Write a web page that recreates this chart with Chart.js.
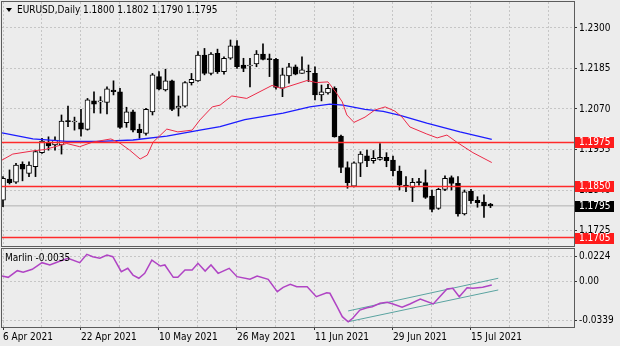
<!DOCTYPE html>
<html><head><meta charset="utf-8">
<script src="https://cdn.jsdelivr.net/npm/chart.js@4/dist/chart.umd.min.js"></script>
<style>
html,body{margin:0;padding:0;background:#ececec;}
#wrap{position:relative;width:620px;height:346px;overflow:hidden;background:#ececec;}
#c1{position:absolute;left:0;top:0;}
#c2{position:absolute;left:0;top:247px;}
</style></head><body>
<div id="wrap"><canvas id="c1" width="620" height="248"></canvas><canvas id="c2" width="620" height="99"></canvas></div>
<script>
// ---------- DATA ----------
const symbolName = 'EURUSD,Daily';
const dateLabels = ['6 Apr 2021','22 Apr 2021','10 May 2021','26 May 2021','11 Jun 2021','29 Jun 2021','15 Jul 2021'];
const dateLabelBars = [0,12,24,36,48,60,72];
const gridBars = [0,6,12,18,24,30,36,42,48,54,60,66,72,78,84];

const opens = [1.1811,1.1871,1.1862,1.1913,1.1887,1.1906,1.1946,1.1974,1.1968,1.1968,
1.2037,1.2033,1.2031,1.2012,1.2093,1.2090,1.2089,1.2124,1.2119,1.2031,
1.2062,1.2012,1.2001,1.2062,1.2162,1.2124,1.2150,1.2072,1.2078,1.2145,
1.2150,1.2223,1.2171,1.2228,1.2176,1.2214,1.2249,1.2195,1.2192,1.2198,
1.2226,1.2212,1.2211,1.2129,1.2164,1.2190,1.2171,1.2177,1.2171,1.2110,
1.2116,1.2129,1.1993,1.1904,1.1851,1.1916,1.1937,1.1923,1.1927,1.1933,
1.1925,1.1894,1.1854,1.1847,1.1864,1.1861,1.1823,1.1788,1.1842,1.1875,
1.1859,1.1772,1.1837,1.1811,1.1806,1.1800];
const highs = [1.1878,1.1897,1.1916,1.1920,1.1920,1.1953,1.1987,1.1991,1.1991,1.2053,
1.2078,1.2047,1.2069,1.2100,1.2119,1.2105,1.2133,1.2150,1.2129,1.2075,
1.2067,1.2027,1.2072,1.2171,1.2176,1.2183,1.2152,1.2107,1.2148,1.2171,
1.2233,1.2242,1.2230,1.2240,1.2218,1.2266,1.2264,1.2214,1.2214,1.2236,
1.2255,1.2226,1.2214,1.2186,1.2200,1.2195,1.2218,1.2195,1.2190,1.2138,
1.2140,1.2133,1.1996,1.1920,1.1920,1.1949,1.1953,1.1952,1.1972,1.1946,
1.1936,1.1908,1.1878,1.1873,1.1873,1.1897,1.1840,1.1845,1.1880,1.1880,
1.1878,1.1840,1.1842,1.1821,1.1826,1.1802];
const lows = [1.1793,1.1857,1.1859,1.1866,1.1878,1.1878,1.1944,1.1953,1.1953,1.1942,
1.2020,1.2010,1.1993,1.2010,1.2059,1.2058,1.2056,1.2110,1.2015,1.2018,
1.2005,1.1987,1.1996,1.2053,1.2124,1.2121,1.2065,1.2050,1.2075,1.2138,
1.2148,1.2167,1.2167,1.2171,1.2169,1.2211,1.2185,1.2176,1.2133,1.2190,
1.2209,1.2162,1.2126,1.2105,1.2143,1.2167,1.2171,1.2148,1.2096,1.2093,
1.2112,1.1990,1.1889,1.1845,1.1849,1.1878,1.1906,1.1916,1.1925,1.1906,
1.1880,1.1840,1.1835,1.1807,1.1854,1.1816,1.1778,1.1785,1.1838,1.1840,
1.1766,1.1769,1.1802,1.1791,1.1762,1.1790];
const closes = [1.1873,1.1861,1.1911,1.1899,1.1911,1.1949,1.1979,1.1965,1.1982,1.2036,
1.2034,1.2035,1.2013,1.2096,1.2084,1.2092,1.2127,1.2119,1.2018,1.2062,
1.2010,1.2003,1.2069,1.2167,1.2126,1.2150,1.2069,1.2078,1.2145,1.2154,
1.2223,1.2171,1.2226,1.2176,1.2214,1.2249,1.2190,1.2185,1.2193,1.2226,
1.2211,1.2210,1.2131,1.2167,1.2190,1.2169,1.2181,1.2175,1.2110,1.2119,
1.2129,1.1991,1.1904,1.1861,1.1917,1.1942,1.1923,1.1930,1.1933,1.1923,
1.1895,1.1854,1.1849,1.1862,1.1861,1.1819,1.1785,1.1842,1.1873,1.1859,
1.1772,1.1835,1.1810,1.1804,1.1795,1.1795];

// moving averages (bar position, price)
const blueMaBars = [-0.15,4.6,9.8,14.9,20.0,25.2,30.3,33.4,37.2,43.1,47.2,50.3,52.3,55.7,58.5,61.1,65.2,70.3,75.2];
const blueMaVals = [1.2002,1.1985,1.1978,1.1978,1.1982,1.1993,1.2010,1.2020,1.2040,1.2058,1.2076,1.2084,1.2081,1.2069,1.2063,1.2052,1.2030,1.2005,1.1984];
const redMaBars = [-0.15,1.5,4.6,6.5,8.0,9.8,11.8,13.8,16.6,18.0,19.5,21.1,22.2,23.1,25.2,26.9,29.1,30.3,32.2,33.4,35.2,37.5,41.4,42.9,46.8,48.2,50.0,51.2,52.2,52.9,54.0,55.7,57.2,58.8,60.3,61.4,62.6,65.2,66.8,68.3,69.8,72.3,75.2];
const redMaVals = [1.1925,1.1942,1.1951,1.1955,1.1963,1.1972,1.1963,1.1976,1.1985,1.1973,1.1953,1.1928,1.1939,1.1976,1.2013,1.2005,1.2010,1.2039,1.2076,1.2081,1.2107,1.2100,1.2137,1.2128,1.2151,1.2145,1.2147,1.2118,1.2090,1.2053,1.2032,1.2047,1.2067,1.2076,1.2064,1.2047,1.2019,1.1999,1.1988,1.1996,1.1976,1.1946,1.1918];

const levelLines = [1.1975, 1.1850, 1.1705];
const bidPrice = 1.1795;
const priceTicks = [1.2300,1.2185,1.2070,1.1955,1.1840,1.1725];

// Marlin oscillator
const marlinName = 'Marlin';
const marlinLast = -0.0035;
const marlinBars = [-0.15,0.8,2.2,3.1,4.5,6.0,7.2,8.5,10.0,11.8,12.9,13.8,14.9,16.0,16.9,18.2,19.2,20.0,20.9,21.8,22.9,24.2,24.9,26.2,26.9,28.0,29.1,30.0,31.1,32.0,33.1,34.8,36.0,38.0,39.1,40.8,42.2,43.1,44.2,45.2,46.8,48.2,49.8,50.3,51.4,52.2,53.1,53.8,54.9,56.0,56.8,58.0,59.1,60.0,61.4,62.6,64.2,66.2,67.2,68.3,69.2,70.2,71.4,72.3,73.8,75.2];
const marlinVals = [0.0050,0.0038,0.0096,0.0082,0.0108,0.0166,0.0146,0.0174,0.0204,0.0166,0.0239,0.0218,0.0204,0.0233,0.0218,0.0087,0.0117,0.0058,0.0030,0.0073,0.0189,0.0137,0.0146,0.0038,0.0038,0.0102,0.0102,0.0160,0.0093,0.0146,0.0073,0.0117,0.0044,0.0021,0.0050,0.0021,-0.0087,-0.0049,-0.0023,-0.0044,-0.0044,-0.0131,-0.0096,-0.0101,-0.0218,-0.0305,-0.0349,-0.0319,-0.0247,-0.0227,-0.0218,-0.0188,-0.0180,-0.0194,-0.0223,-0.0194,-0.0151,-0.0194,-0.0131,-0.0064,-0.0058,-0.0131,-0.0052,-0.0058,-0.0049,-0.0029];
const channelBars = [53.1, 76.2];
const channelUpper = [-0.0255, 0.0030];
const channelLower = [-0.0349, -0.0072];
const marlinTicks = [0.0224, 0, -0.0339];
const marlinTickLabels = ['0.0224','0.00','-0.0339'];

// ---------- LAYOUT / STYLE ----------
const xMin = -0.154, xMax = 87.85;
const FONT_FAMILY = '"DejaVu Sans Condensed","Liberation Sans",sans-serif';
const FONT_SIZE = 10;
const FONT = FONT_SIZE + 'px ' + FONT_FAMILY;
const gridColor = '#c6c6c6';
const N = opens.length;
const barIdx = Array.from({length: N}, (_, i) => i);
const pts = (xs, ys) => xs.map((x, k) => ({x, y: ys[k]}));
const hline = v => [{x: xMin, y: v}, {x: xMax, y: v}];

const frame = {
  id: 'frame',
  afterDraw(chart) {
    const {ctx, chartArea: a} = chart;
    ctx.save();
    ctx.strokeStyle = '#5c5c5c'; ctx.lineWidth = 1;
    ctx.strokeRect(a.left - 0.5, a.top - 0.5, a.right - a.left + 1, a.bottom - a.top + 1);
    ctx.restore();
  }
};

const header = {
  id: 'header',
  afterDraw(chart) {
    const ctx = chart.ctx;
    ctx.save();
    ctx.fillStyle = '#000';
    ctx.beginPath(); ctx.moveTo(6, 8); ctx.lineTo(12, 8); ctx.lineTo(9, 12); ctx.closePath(); ctx.fill();
    ctx.font = FONT; ctx.textBaseline = 'middle';
    ctx.fillText(symbolName, 17, 10.5);
    const ohlc = [opens[N-1], highs[N-1], lows[N-1], closes[N-1]].map(v => v.toFixed(4)).join(' ');
    ctx.fillText(ohlc, 83, 10.5);
    ctx.restore();
  }
};

const levelBoxes = {
  id: 'levelBoxes',
  afterDraw(chart) {
    const y = chart.scales.y, ctx = chart.ctx;
    ctx.save();
    ctx.font = FONT; ctx.textBaseline = 'middle';
    const items = levelLines.map(v => ({v, bg: '#ff1c1c'})).concat([{v: bidPrice, bg: '#000000'}]);
    items.forEach(it => {
      const py = Math.round(y.getPixelForValue(it.v));
      ctx.fillStyle = it.bg; ctx.fillRect(575, py - 5, 39, 11);
      ctx.fillStyle = '#ffffff'; ctx.fillText(it.v.toFixed(4), 579, py + 0.5);
    });
    ctx.restore();
  }
};

const marlinLabel = {
  id: 'marlinLabel',
  afterDraw(chart) {
    const ctx = chart.ctx;
    ctx.save(); ctx.font = FONT; ctx.fillStyle = '#000'; ctx.textBaseline = 'middle';
    ctx.fillText(marlinName + ' ' + marlinLast.toFixed(4), 5, 11);
    ctx.restore();
  }
};

const noPadY = s => { s.width = 46; s.paddingTop = 0; s.paddingBottom = 0; };

const commonX = (labels) => ({
  type: 'linear', min: xMin, max: xMax, offset: false,
  afterBuildTicks: s => { s.ticks = gridBars.map(v => ({value: v})); },
  grid: {color: gridColor, offset: false, drawTicks: labels, tickLength: 3,
         tickColor: ctx => (ctx.tick && dateLabelBars.includes(ctx.tick.value)) ? '#333' : 'rgba(0,0,0,0)',
         tickBorderDash: []},
  border: {display: false, dash: [2, 2]},
  ticks: labels ? {
    display: true, autoSkip: false, maxRotation: 0, minRotation: 0, align: 'start', padding: 1,
    color: '#000', font: {family: FONT_FAMILY, size: FONT_SIZE},
    callback: v => { const k = dateLabelBars.indexOf(v); return k >= 0 ? dateLabels[k] : ''; }
  } : {display: false}
});

new Chart(document.getElementById('c1'), {
  type: 'bar',
  data: {
    datasets: [
      {type: 'line', data: hline(bidPrice), borderColor: '#b2b2b2', borderWidth: 1, pointRadius: 0, order: 20},
      {type: 'bar', data: barIdx.map(i => ({x: i, y: [lows[i], highs[i]]})), backgroundColor: '#000', borderWidth: 0,
       barThickness: 1, grouped: false, order: 15},
      {type: 'bar', data: barIdx.map(i => ({x: i, y: [opens[i], closes[i]]})),
       backgroundColor: barIdx.map(i => closes[i] >= opens[i] ? '#ffffff' : '#000000'),
       borderColor: '#000', borderWidth: 1, borderSkipped: false, barThickness: 5, minBarLength: 1,
       grouped: false, order: 14},
      {type: 'line', data: pts(blueMaBars, blueMaVals), borderColor: '#1c1cff', borderWidth: 1.3, pointRadius: 0, tension: 0, order: 6},
      {type: 'line', data: pts(redMaBars, redMaVals), borderColor: '#ec2a48', borderWidth: 1, pointRadius: 0, tension: 0, order: 5},
      ...levelLines.map(v => ({type: 'line', data: hline(v), borderColor: '#ff2a2a', borderWidth: 1.6, pointRadius: 0, order: 3}))
    ]
  },
  options: {
    responsive: false, animation: false, events: [], devicePixelRatio: 1,
    layout: {padding: {left: 2, top: 2, right: 0, bottom: 2}},
    plugins: {legend: {display: false}, tooltip: {enabled: false}},
    scales: {
      x: Object.assign(commonX(false), {afterFit: s => { s.height = 0; s.paddingLeft = 0; s.paddingRight = 0; }}),
      y: {
        type: 'linear', position: 'right', min: 1.16810, max: 1.23738,
        afterBuildTicks: s => { s.ticks = priceTicks.map(v => ({value: v})); },
        afterFit: noPadY,
        ticks: {color: '#000', padding: 2, font: {family: FONT_FAMILY, size: FONT_SIZE}, callback: v => v.toFixed(4)},
        grid: {color: gridColor, drawTicks: true, tickLength: 3, tickColor: '#333', tickBorderDash: []},
        border: {display: false, dash: [2, 2]}
      }
    }
  },
  plugins: [frame, header, levelBoxes]
});

new Chart(document.getElementById('c2'), {
  type: 'line',
  data: {
    datasets: [
      {data: pts(channelBars, channelUpper), borderColor: '#5aa3a0', borderWidth: 1, pointRadius: 0, order: 3},
      {data: pts(channelBars, channelLower), borderColor: '#5aa3a0', borderWidth: 1, pointRadius: 0, order: 3},
      {data: pts(marlinBars, marlinVals), borderColor: '#b044c4', borderWidth: 1.5, pointRadius: 0, tension: 0, order: 1}
    ]
  },
  options: {
    responsive: false, animation: false, events: [], devicePixelRatio: 1,
    layout: {padding: {left: 2, top: 2, right: 0, bottom: 0}},
    plugins: {legend: {display: false}, tooltip: {enabled: false}},
    scales: {
      x: Object.assign(commonX(true), {afterFit: s => { s.height = 19; s.paddingLeft = 0; s.paddingRight = 0; }}),
      y: {
        type: 'linear', position: 'right', min: -0.03949, max: 0.02851,
        afterBuildTicks: s => { s.ticks = marlinTicks.map(v => ({value: v})); },
        afterFit: noPadY,
        ticks: {color: '#000', padding: 2, font: {family: FONT_FAMILY, size: FONT_SIZE},
                callback: (v) => { const k = marlinTicks.indexOf(v); return k >= 0 ? marlinTickLabels[k] : ''; }},
        grid: {color: gridColor, drawTicks: true, tickLength: 3, tickColor: '#333', tickBorderDash: []},
        border: {display: false, dash: [2, 2]}
      }
    }
  },
  plugins: [frame, marlinLabel]
});
</script>
</body></html>
